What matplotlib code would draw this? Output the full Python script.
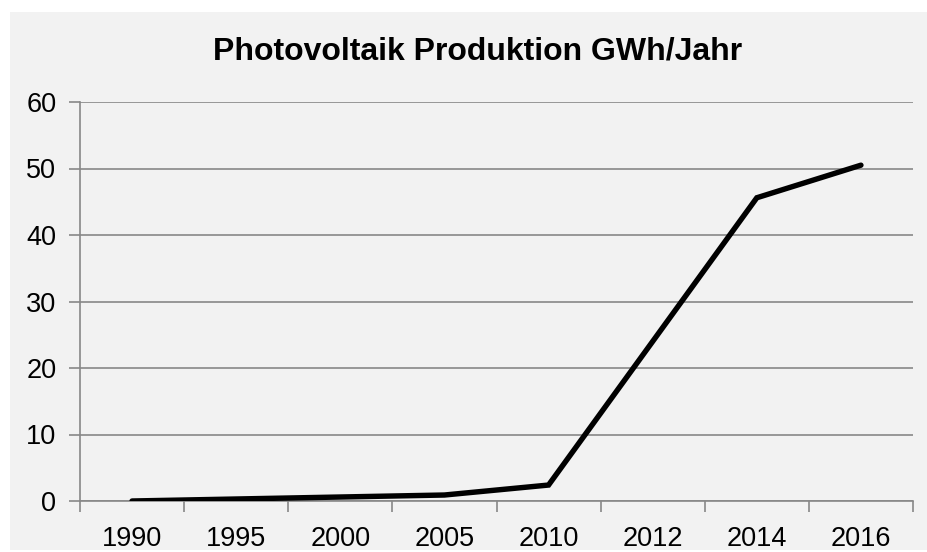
import numpy as np
import matplotlib.pyplot as plt
from matplotlib.patches import Rectangle

# -----------------------------------------------------
#  Data
# -----------------------------------------------------
years = ["1990", "1995", "2000", "2005", "2010", "2012", "2014", "2016"]
production = [0.0, 0.3, 0.6, 0.9, 2.4, 24.0, 45.6, 50.5]
y_ticks = [0, 10, 20, 30, 40, 50, 60]

title = "Photovoltaik Produktion GWh/Jahr"

plt.rcParams['font.family'] = ['Liberation Sans', 'DejaVu Sans']

W, H = 927, 552
fig = plt.figure(figsize=(W / 100, H / 100), dpi=100)
fig.patch.set_facecolor("white")

# grey chart area behind everything
fig.patches.append(Rectangle((10 / W, (H - 550) / H), (W - 10) / W, 538 / H,
                             transform=fig.transFigure, facecolor="#f2f2f2",
                             edgecolor="none", zorder=-5))

ax = fig.add_axes([80 / W, (H - 501) / H, (913 - 80) / W, (501 - 102) / H])
ax.set_facecolor("none")
ax.set_zorder(1)

x = np.arange(len(years)) + 0.5
ax.plot(x, production, color="black", linewidth=3.9, solid_joinstyle="miter",
        solid_capstyle="round", zorder=3)

ax.set_xlim(0, len(years))
ax.set_ylim(0, 60)

grid_c = "#888888"
ax.set_yticks(y_ticks)
ax.set_yticklabels([str(v) for v in y_ticks], fontsize=19.5)
ax.yaxis.grid(True, color=grid_c, linewidth=1.2)
ax.set_axisbelow(True)

# category boundaries as major ticks, labels on minor ticks at centres
ax.set_xticks(np.arange(len(years) + 1))
ax.set_xticklabels([])
ax.set_xticks(x, minor=True)
ax.set_xticklabels(years, minor=True, fontsize=19.5)
ax.tick_params(axis="x", which="minor", length=0, pad=18)
ax.tick_params(axis="x", which="major", length=8, width=1.2, color=grid_c)
ax.tick_params(axis="y", length=8, width=1.2, color=grid_c, pad=9)

for side in ["top", "right"]:
    ax.spines[side].set_visible(False)
for side in ["left", "bottom"]:
    ax.spines[side].set_color(grid_c)
    ax.spines[side].set_linewidth(1.2)

fig.text(478 / W, (H - 52) / H, title, ha="center", va="center",
         fontsize=23, fontweight="bold")

fig.savefig("out.png", dpi=100)
